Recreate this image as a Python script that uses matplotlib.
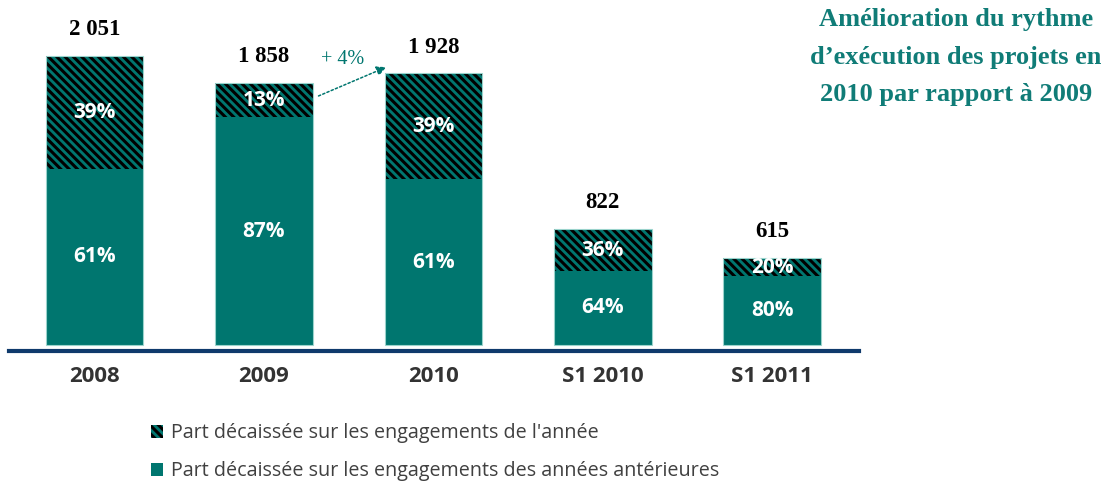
import matplotlib.pyplot as plt
from matplotlib.patches import Patch

# chart values
categories = ["2008", "2009", "2010", "S1 2010", "S1 2011"]
totals = [2051, 1858, 1928, 822, 615]
share_year = [39, 13, 39, 36, 20]      # part on the year's commitments (hatched, top)
share_prior = [61, 87, 61, 64, 80]     # part on prior years' commitments (solid, bottom)
total_labels = ["2 051", "1 858", "1 928", "822", "615"]

label_year = "Part décaissée sur les engagements de l'année"
label_prior = "Part décaissée sur les engagements des années antérieures"
title_txt = "Amélioration du rythme\nd\u2019exécution des projets en\n2010 par rapport à 2009"

teal = "#00766F"
navy = "#0F3A6C"
plt.rcParams['hatch.linewidth'] = 2.2

prior_vals = [t * p / 100 for t, p in zip(totals, share_prior)]
year_vals = [t - b for t, b in zip(totals, prior_vals)]
x = list(range(len(categories)))
w = 0.576

fig = plt.figure(figsize=(11.09, 4.82), dpi=100)
ax = fig.add_axes([0.0081, 0.2718, 0.7665, 0.7282])

ax.bar(x, prior_vals, width=w, color=teal, linewidth=0)
ax.bar(x, year_vals, width=w, bottom=prior_vals, color=teal, edgecolor='black',
       linewidth=0, hatch='\\\\\\\\')
ax.bar(x, totals, width=w, fill=False, edgecolor='#9ad3cc', linewidth=0.8)

for i in x:
    ax.text(i, prior_vals[i] / 2, f"{share_prior[i]}%", ha='center', va='center',
            color='white', fontsize=15, fontweight='bold', family='Open Sans')
    ax.text(i, prior_vals[i] + year_vals[i] / 2, f"{share_year[i]}%", ha='center',
            va='center', color='white', fontsize=15, fontweight='bold', family='Open Sans')
    ax.annotate(total_labels[i], (i, totals[i]), xytext=(0, 19), textcoords='offset points',
                ha='center', va='center', fontsize=16.5, fontweight='bold',
                family='Liberation Serif', color='black')

# arrow 2009 -> 2010
ax.annotate("", xy=(1.737, 1980), xytext=(1.307, 1760),
            arrowprops=dict(arrowstyle='-|>', color=teal, lw=1.1, linestyle=(0, (1.5, 1.5)),
                            mutation_scale=14))
ax.text(1.465, 2025, "+ 4%", ha='center', va='center', color=teal, fontsize=14.5,
        family='Liberation Serif')

ax.set_xlim(-0.505, 4.513)
ax.set_ylim(-42.6, 2449)
ax.set_xticks(x)
ax.set_xticklabels(categories, fontsize=16, fontweight='bold', family='Open Sans', color='#333333')
ax.tick_params(axis='x', length=0, pad=11)
ax.set_yticks([])
for s in ['top', 'left', 'right']:
    ax.spines[s].set_visible(False)
ax.spines['bottom'].set_color(navy)
ax.spines['bottom'].set_linewidth(3)
ax.patch.set_alpha(0)

fig.text(0.862, 0.8817, title_txt, ha='center', va='center', color='#107C77', fontsize=19,
         fontweight='bold', family='Liberation Serif', linespacing=1.83)

handles = [Patch(facecolor=teal, edgecolor='black', linewidth=0, hatch='\\\\\\\\'),
           Patch(facecolor=teal, linewidth=0)]
fig.legend(handles, [label_year, label_prior], loc='upper left', bbox_to_anchor=(0.136, 0.122),
           frameon=False, handlelength=0.6, handleheight=0.6, handletextpad=0.42,
           labelspacing=0.92, borderaxespad=0, borderpad=0,
           prop={'family': 'Open Sans', 'size': 14.2}, labelcolor='#404040')

fig.savefig("out.png", dpi=100)
